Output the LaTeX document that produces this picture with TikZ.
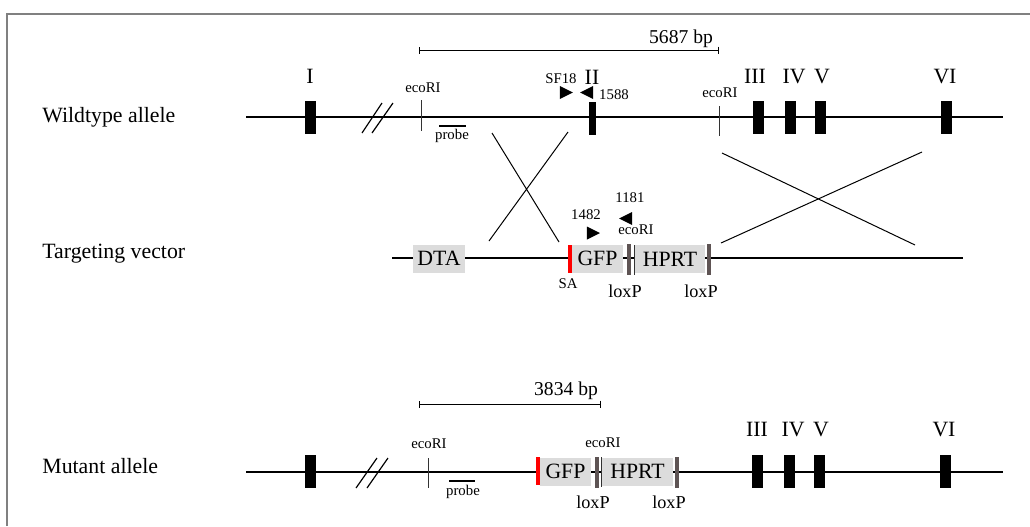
\documentclass[tikz,border=0pt]{standalone}
\usepackage{fontspec}
\setmainfont{Liberation Serif}
\usetikzlibrary{arrows.meta,shapes.geometric}
\definecolor{loxpgray}{RGB}{94,84,84}
\definecolor{boxgray}{RGB}{220,220,220}

\begin{document}
\begin{tikzpicture}[
    x=0.5pt, y=-0.5pt,
    txtbig/.style={font=\fontsize{10.9}{12}\selectfont, inner sep=0},
    txtmid/.style={font=\fontsize{9.1}{11}\selectfont, inner sep=0},
    txtbp/.style={font=\fontsize{9.8}{11}\selectfont, inner sep=0},
    txtsmall/.style={font=\fontsize{7.4}{9}\selectfont, inner sep=0},
    dna/.style={line width=1pt},
    site/.style={line width=0.5pt, black!80},
    probeline/.style={line width=0.8pt},
    crossline/.style={line width=0.5pt},
    scalebar/.style={line width=0.5pt, {Bar[width=3.5pt]}-{Bar[width=3.5pt]}},
    exon/.style={fill=black, inner sep=0, minimum width=5.5pt, minimum height=16.5pt},
    gene/.style={fill=boxgray, inner sep=0, minimum height=14pt, font=\fontsize{10.9}{12}\selectfont},
    loxp/.style={fill=loxpgray, inner sep=0, minimum width=2pt, minimum height=15.5pt},
    sabar/.style={fill=red, inner sep=0, minimum width=2pt, minimum height=14pt},
    fwd/.style={isosceles triangle, isosceles triangle stretches, fill=black, inner sep=0,
      minimum width=6.5pt, minimum height=6.5pt},
    rev/.style={fwd, shape border rotate=180},
  ]
    \useasboundingbox (0,0) rectangle (1030,526);
    \draw[gray, line width=0.75pt] (7,526) -- (7,14) -- (1030,14);

    % row titles
    \node[txtbig, anchor=base west] (wt) at (42,122) {Wildtype allele};
    \node[txtbig, anchor=base west] (tv) at (42,258) {Targeting vector};
    \node[txtbig, anchor=base west] (mu) at (42,473) {Mutant allele};

    % wildtype allele
    \coordinate (wtL) at (246,117);
    \coordinate (wtR) at (1003,117);
    \draw[dna] (wtL) -- (wtR);
    \foreach \x/\lx/\n/\t in {310.5/310/1/I, 758.5/755/3/III, 790.5/794/4/IV, 820.5/822/5/V, 946.5/945/6/VI} {
      \node[exon] (wt-e\n) at (\x,117) {};
      \node[txtbig, anchor=base] (wt-l\n) at (\lx,83) {\t};
    }
    \node[exon, minimum width=3.5pt] (wt-e2) at (592.5,118) {};
    \node[txtbig, anchor=base] (wt-l2) at (592,84) {II};
    \draw[line width=0.6pt] (362,133) -- (382,103) (372,133) -- (393,103);
    \coordinate (wtR1a) at (421,100); \coordinate (wtR1b) at (421,131);
    \draw[site] (wtR1a) -- (wtR1b);
    \node[txtsmall, anchor=base] (wt-eco1) at (423,92) {ecoRI};
    \coordinate (wtR2a) at (719,106); \coordinate (wtR2b) at (719,136);
    \draw[site] (wtR2a) -- (wtR2b);
    \node[txtsmall, anchor=base] (wt-eco2) at (720,97) {ecoRI};
    \coordinate (wtPa) at (439,126); \coordinate (wtPb) at (466,126);
    \draw[probeline] (wtPa) -- (wtPb);
    \node[txtsmall, anchor=base] (wt-probe) at (452,139) {probe};
    \node[fwd] (sf18) at (564,92.5) {};
    \node[rev] (p1588) at (589,92.5) {};
    \node[txtsmall, anchor=base] (sf18-l) at (561,83) {SF18};
    \node[txtsmall, anchor=base] (p1588-l) at (614,99) {1588};
    \coordinate (wtBa) at (419,50); \coordinate (wtBb) at (719,50);
    \draw[scalebar] (wtBa) -- (wtBb);
    \node[txtbp, anchor=base] (wt-bp) at (681,43) {5687 bp};

    % targeting vector
    \coordinate (tvL) at (392,258);
    \coordinate (tvR) at (963,258);
    \draw[dna] (tvL) -- (tvR);
    \node[gene, minimum width=26pt] (dta) at (439,258.5) {DTA};
    \node[sabar] (tv-sa) at (570,258.5) {};
    \node[gene, minimum width=25.5pt] (tv-gfp) at (597.5,258.5) {GFP};
    \node[loxp] (tv-lox1) at (629,259.5) {};
    \coordinate (tvRa) at (634,245); \coordinate (tvRb) at (634,275);
    \draw[site] (tvRa) -- (tvRb);
    \node[gene, minimum width=35pt] (tv-hprt) at (670,259) {HPRT};
    \node[loxp] (tv-lox2) at (709,259.5) {};
    \node[txtsmall, anchor=base] (tv-sa-l) at (568,288) {SA};
    \node[txtmid, anchor=base] (tv-lox1-l) at (625,297) {loxP};
    \node[txtmid, anchor=base] (tv-lox2-l) at (701,297) {loxP};
    \node[fwd] (p1482) at (591,233) {};
    \node[rev] (p1181) at (628,218.5) {};
    \node[txtsmall, anchor=base] (p1482-l) at (586,219) {1482};
    \node[txtsmall, anchor=base] (p1181-l) at (630,202) {1181};
    \node[txtsmall, anchor=base] (tv-eco) at (636,234) {ecoRI};

    % crossover lines
    \draw[crossline] (492,133) -- (559,242) (568,132) -- (489,241);
    \draw[crossline] (722,153) -- (915,245) (922,152) -- (721,243);

    % mutant allele
    \coordinate (muL) at (246,472);
    \coordinate (muR) at (1003,472);
    \draw[dna] (muL) -- (muR);
    \foreach \x/\lx/\n/\t in {310.5/-1/1/{}, 757.5/757/3/III, 789.5/793/4/IV, 819.5/821/5/V, 945.5/944/6/VI} {
      \node[exon] (mu-e\n) at (\x,471) {};
      \ifnum\n>1 \node[txtbig, anchor=base] (mu-l\n) at (\lx,436) {\t}; \fi
    }
    \draw[line width=0.6pt] (356,488) -- (377,458) (367,488) -- (388,458);
    \coordinate (muR1a) at (428,458); \coordinate (muR1b) at (428,488);
    \draw[site] (muR1a) -- (muR1b);
    \node[txtsmall, anchor=base] (mu-eco1) at (429,448) {ecoRI};
    \coordinate (muPa) at (449,481); \coordinate (muPb) at (475,481);
    \draw[probeline] (muPa) -- (muPb);
    \node[txtsmall, anchor=base] (mu-probe) at (463,495) {probe};
    \node[sabar] (mu-sa) at (538,471) {};
    \node[gene, minimum width=25.5pt] (mu-gfp) at (565.5,471.5) {GFP};
    \node[loxp] (mu-lox1) at (597,472) {};
    \coordinate (muR2a) at (601,457); \coordinate (muR2b) at (601,487);
    \draw[site] (muR2a) -- (muR2b);
    \node[gene, minimum width=35.5pt] (mu-hprt) at (637.5,471.5) {HPRT};
    \node[loxp] (mu-lox2) at (677,472) {};
    \node[txtsmall, anchor=base] (mu-eco2) at (603,447) {ecoRI};
    \node[txtmid, anchor=base] (mu-lox1-l) at (593,508) {loxP};
    \node[txtmid, anchor=base] (mu-lox2-l) at (669,508) {loxP};
    \coordinate (muBa) at (419,404); \coordinate (muBb) at (601,404);
    \draw[scalebar] (muBa) -- (muBb);
    \node[txtbp, anchor=base] (mu-bp) at (566,395) {3834 bp};
  \end{tikzpicture}
\end{document}
